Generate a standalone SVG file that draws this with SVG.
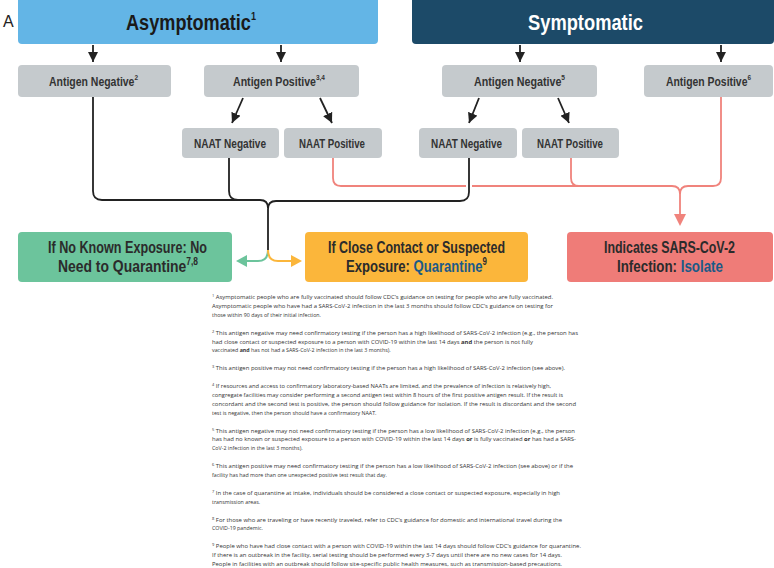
<svg xmlns="http://www.w3.org/2000/svg" width="774" height="568" viewBox="0 0 774 568">
<style>
.hd{font-family:'Liberation Sans Narrow','Liberation Sans',Arial,sans-serif;font-weight:700;text-anchor:middle}
.gb{fill:#c5cacd}
.gt{font-size:13px;fill:#333}
.bt{font-size:16.5px;fill:#2b2b2b}
.bl{fill:#1b5a87}
.fn{font-family:'Open Sans','Noto Sans',sans-serif;font-size:5.3px;fill:#333}
.fs{font-size:3.6px}
.b{font-weight:700}
.blk{fill:none;stroke:#222;stroke-width:1.8}
.pnk{fill:none;stroke:#f0837c;stroke-width:1.8}
</style>
<defs>
<marker id="ah" markerUnits="userSpaceOnUse" markerWidth="10" markerHeight="10" viewBox="0 0 10 10" refX="10" refY="5" orient="auto">
<path d="M0,0 L10,5 L0,10 z" fill="#222"/>
</marker>
</defs>
<rect width="774" height="568" fill="#fff"/>
<text x="3" y="27" font-family="'Liberation Sans',Arial,sans-serif" font-size="16" fill="#222">A</text>

<g id="asymptomatic">
<rect x="18" y="-6" width="360" height="50" rx="4" fill="#63b5e6"/>
<text class="hd" x="191" y="30" font-size="22" fill="#1a1a1a" textLength="130" lengthAdjust="spacingAndGlyphs">Asymptomatic<tspan font-size="11" dy="-10">1</tspan></text>
</g>
<g id="symptomatic">
<rect x="412" y="-6" width="362" height="50" rx="4" fill="#1c4a68"/>
<text class="hd" x="585.5" y="30" font-size="22" fill="#fff" textLength="115" lengthAdjust="spacingAndGlyphs">Symptomatic</text>
</g>

<g id="asym-antigen-negative">
<rect class="gb" x="18" y="65" width="153" height="32" rx="4"/>
<text class="hd gt" x="93.5" y="86" textLength="89" lengthAdjust="spacingAndGlyphs">Antigen Negative<tspan font-size="8" dy="-6">2</tspan></text>
</g>
<g id="asym-antigen-positive">
<rect class="gb" x="204" y="65" width="155" height="32" rx="4"/>
<text class="hd gt" x="279" y="86" textLength="92" lengthAdjust="spacingAndGlyphs">Antigen Positive<tspan font-size="8" dy="-6">3,4</tspan></text>
</g>
<g id="asym-naat-negative">
<rect class="gb" x="182" y="128" width="97" height="30" rx="4"/>
<text class="hd gt" x="230" y="148" textLength="72" lengthAdjust="spacingAndGlyphs">NAAT Negative</text>
</g>
<g id="asym-naat-positive">
<rect class="gb" x="284" y="128" width="98" height="30" rx="4"/>
<text class="hd gt" x="332" y="148" textLength="66" lengthAdjust="spacingAndGlyphs">NAAT Positive</text>
</g>
<g id="sym-antigen-negative">
<rect class="gb" x="442" y="65" width="155" height="32" rx="4"/>
<text class="hd gt" x="519.5" y="86" textLength="91" lengthAdjust="spacingAndGlyphs">Antigen Negative<tspan font-size="8" dy="-6">5</tspan></text>
</g>
<g id="sym-antigen-positive">
<rect class="gb" x="644" y="65" width="129" height="32" rx="4"/>
<text class="hd gt" x="708.5" y="86" textLength="85" lengthAdjust="spacingAndGlyphs">Antigen Positive<tspan font-size="8" dy="-6">6</tspan></text>
</g>
<g id="sym-naat-negative">
<rect class="gb" x="419" y="128" width="98" height="30" rx="4"/>
<text class="hd gt" x="466.5" y="148" textLength="71" lengthAdjust="spacingAndGlyphs">NAAT Negative</text>
</g>
<g id="sym-naat-positive">
<rect class="gb" x="522" y="128" width="97" height="30" rx="4"/>
<text class="hd gt" x="570" y="148" textLength="66" lengthAdjust="spacingAndGlyphs">NAAT Positive</text>
</g>

<g id="connectors">
<line class="blk" x1="93" y1="45" x2="93" y2="62" marker-end="url(#ah)"/>
<line class="blk" x1="281" y1="45" x2="281" y2="62" marker-end="url(#ah)"/>
<line class="blk" x1="520" y1="45" x2="520" y2="62" marker-end="url(#ah)"/>
<line class="blk" x1="721" y1="45" x2="721" y2="62" marker-end="url(#ah)"/>
<line class="blk" x1="243" y1="98" x2="232" y2="123" marker-end="url(#ah)"/>
<line class="blk" x1="320" y1="98" x2="332" y2="123" marker-end="url(#ah)"/>
<line class="blk" x1="479" y1="98" x2="469" y2="123" marker-end="url(#ah)"/>
<line class="blk" x1="558" y1="98" x2="569" y2="123" marker-end="url(#ah)"/>
<path class="pnk" d="M333,158 V178 Q333,186 341,186 H672 Q680,186 680,194 V216"/>
<path class="pnk" d="M571,158 V178 Q571,186 579,186"/>
<path class="pnk" d="M721,97 V178 Q721,186 713,186 H688 Q680,186 680,194"/>
<polygon points="680,226 674,214 686,214" fill="#f0837c"/>
<line x1="469" y1="176" x2="469" y2="196" stroke="#fff" stroke-width="6"/>
<path class="blk" d="M93,97 V191 Q93,200 102,200 H260 Q268,200 268,208"/>
<path class="blk" d="M229,158 V191 Q229,200 238,200"/>
<path class="blk" d="M469,158 V192 Q469,201 460,201 H276 Q268,201 268,209 V251"/>
<path d="M268,250 Q268,261 258,261 H245" fill="none" stroke="#6cc49c" stroke-width="2"/>
<polygon points="236,261 247,255 247,267" fill="#6cc49c"/>
<path d="M268,250 Q268,261 278,261 H292" fill="none" stroke="#fbb63b" stroke-width="2"/>
<polygon points="302,261 291,255 291,267" fill="#fbb63b"/>
</g>

<g id="no-quarantine">
<rect x="18" y="232" width="214" height="50" rx="4" fill="#6cc49c"/>
<text class="hd bt" x="127.5" y="253" textLength="159" lengthAdjust="spacingAndGlyphs">If No Known Exposure: No</text>
<text class="hd bt" x="128" y="272" textLength="140" lengthAdjust="spacingAndGlyphs">Need to Quarantine<tspan font-size="10" dy="-7">7,8</tspan></text>
</g>
<g id="quarantine">
<rect x="305" y="232" width="223" height="50" rx="4" fill="#fbb63b"/>
<text class="hd bt" x="416.5" y="253" textLength="177" lengthAdjust="spacingAndGlyphs">If Close Contact or Suspected</text>
<text class="hd bt" x="416.5" y="272" textLength="141" lengthAdjust="spacingAndGlyphs">Exposure: <tspan class="bl">Quarantine</tspan><tspan font-size="10" dy="-7">9</tspan></text>
</g>
<g id="isolate">
<rect x="567" y="232" width="206" height="50" rx="4" fill="#ef7c78"/>
<text class="hd bt" x="669.5" y="253" textLength="131" lengthAdjust="spacingAndGlyphs">Indicates SARS-CoV-2</text>
<text class="hd bt" x="670" y="272" textLength="106" lengthAdjust="spacingAndGlyphs">Infection: <tspan class="bl">Isolate</tspan></text>
</g>

<g id="footnotes" class="fn">
<text x="212" y="299" textLength="341" lengthAdjust="spacingAndGlyphs"><tspan class="fs" dy="-2">1</tspan><tspan dy="2"> Asymptomatic people who are fully vaccinated should follow CDC’s guidance on testing for people who are fully vaccinated.</tspan></text>
<text x="212" y="307.9" textLength="341" lengthAdjust="spacingAndGlyphs">Asymptomatic people who have had a SARS-CoV-2 infection in the last 3 months should follow CDC’s guidance on testing for</text>
<text x="212" y="316.8">those within 90 days of their initial infection.</text>

<text x="212" y="334.6" textLength="366" lengthAdjust="spacingAndGlyphs"><tspan class="fs" dy="-2">2</tspan><tspan dy="2"> This antigen negative may need confirmatory testing if the person has a high likelihood of SARS-CoV-2 infection (e.g., the person has</tspan></text>
<text x="212" y="343.5" textLength="321" lengthAdjust="spacingAndGlyphs">had close contact or suspected exposure to a person with COVID-19 within the last 14 days <tspan class="b">and</tspan> the person is not fully</text>
<text x="212" y="352.4">vaccinated <tspan class="b">and</tspan> has not had a SARS-CoV-2 infection in the last 3 months).</text>

<text x="212" y="370.2" textLength="353" lengthAdjust="spacingAndGlyphs"><tspan class="fs" dy="-2">3</tspan><tspan dy="2"> This antigen positive may not need confirmatory testing if the person has a high likelihood of SARS-CoV-2 infection (see above).</tspan></text>

<text x="212" y="388" textLength="339" lengthAdjust="spacingAndGlyphs"><tspan class="fs" dy="-2">4</tspan><tspan dy="2"> If resources and access to confirmatory laboratory-based NAATs are limited, and the prevalence of infection is relatively high,</tspan></text>
<text x="212" y="396.9" textLength="351" lengthAdjust="spacingAndGlyphs">congregate facilities may consider performing a second antigen test within 8 hours of the first positive antigen result. If the result is</text>
<text x="212" y="405.8" textLength="364" lengthAdjust="spacingAndGlyphs">concordant and the second test is positive, the person should follow guidance for isolation. If the result is discordant and the second</text>
<text x="212" y="414.7">test is negative, then the person should have a confirmatory NAAT.</text>

<text x="212" y="432.5" textLength="363" lengthAdjust="spacingAndGlyphs"><tspan class="fs" dy="-2">5</tspan><tspan dy="2"> This antigen negative may not need confirmatory testing if the person has a low likelihood of SARS-CoV-2 infection (e.g., the person</tspan></text>
<text x="212" y="441.4" textLength="364" lengthAdjust="spacingAndGlyphs">has had no known or suspected exposure to a person with COVID-19 within the last 14 days <tspan class="b">or</tspan> is fully vaccinated <tspan class="b">or</tspan> has had a SARS-</text>
<text x="212" y="450.3">CoV-2 infection in the last 3 months).</text>

<text x="212" y="468.1" textLength="361" lengthAdjust="spacingAndGlyphs"><tspan class="fs" dy="-2">6</tspan><tspan dy="2"> This antigen positive may need confirmatory testing if the person has a low likelihood of SARS-CoV-2 infection (see above) or if the</tspan></text>
<text x="212" y="477">facility has had more than one unexpected positive test result that day.</text>

<text x="212" y="494.8" textLength="348" lengthAdjust="spacingAndGlyphs"><tspan class="fs" dy="-2">7</tspan><tspan dy="2"> In the case of quarantine at intake, individuals should be considered a close contact or suspected exposure, especially in high</tspan></text>
<text x="212" y="503.7">transmission areas.</text>

<text x="212" y="521.5" textLength="350" lengthAdjust="spacingAndGlyphs"><tspan class="fs" dy="-2">8</tspan><tspan dy="2"> For those who are traveling or have recently traveled, refer to CDC’s guidance for domestic and international travel during the</tspan></text>
<text x="212" y="530.4">COVID-19 pandemic.</text>

<text x="212" y="548.2" textLength="369" lengthAdjust="spacingAndGlyphs"><tspan class="fs" dy="-2">9</tspan><tspan dy="2"> People who have had close contact with a person with COVID-19 within the last 14 days should follow CDC’s guidance for quarantine.</tspan></text>
<text x="212" y="557.1" textLength="350" lengthAdjust="spacingAndGlyphs">If there is an outbreak in the facility, serial testing should be performed every 3-7 days until there are no new cases for 14 days.</text>
<text x="212" y="566" textLength="350" lengthAdjust="spacingAndGlyphs">People in facilities with an outbreak should follow site-specific public health measures, such as transmission-based precautions.</text>
</g>
</svg>
